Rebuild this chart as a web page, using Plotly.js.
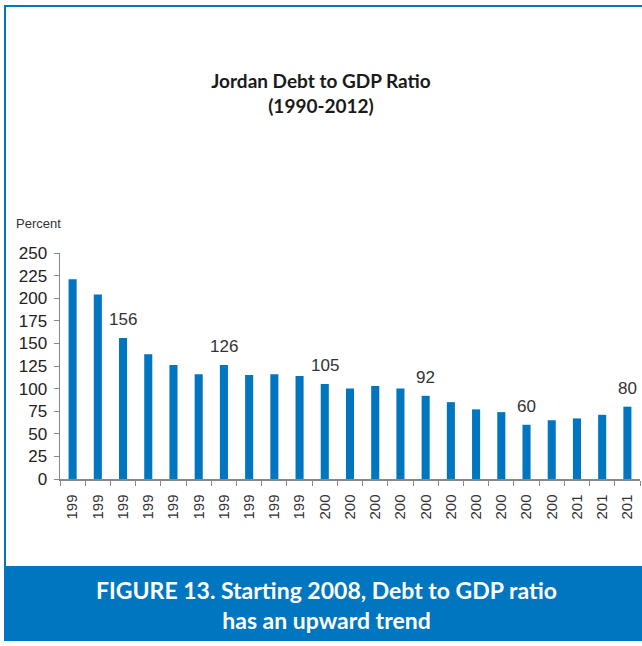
<!DOCTYPE html>
<html>
<head>
<meta charset="utf-8">
<script src="https://cdn.plot.ly/plotly-3.0.1.min.js"></script>
<style>html,body{margin:0;padding:0;background:#fff;}#chart{width:642px;height:646px;}</style>
</head>
<body>
<div id="chart"></div>
<script>
// Data
const years = ['1990','1991','1992','1993','1994','1995','1996','1997','1998','1999','2000','2001','2002','2003','2004','2005','2006','2007','2008','2009','2010','2011','2012'];
const debtToGdp = [221, 204, 156, 138, 126, 116, 126, 115, 116, 114, 105, 100, 103, 100, 92, 85, 77, 74, 60, 65, 67, 71, 80];
const tickLabels = ['199','199','199','199','199','199','199','199','199','199','200','200','200','200','200','200','200','200','200','200','201','201','201'];
const labelledYears = ['1992','1996','2000','2004','2008','2012'];
const labelledValues = ['156','126','105','92','60','80'];
const yTicks = [0, 25, 50, 75, 100, 125, 150, 175, 200, 225, 250];

const BLUE = '#0076C0';
const W = 642, H = 646;
const L = 60, R = 2, T = 253, B = 167;
const pw = W - L - R, ph = H - T - B;
const px = p => (p - L) / pw;
const py = p => (H - B - p) / ph;

const trace = {
  type: 'bar',
  x: years,
  y: debtToGdp,
  marker: {color: BLUE},
  hoverinfo: 'x+y'
};

const annotations = labelledYears.map((yr, i) => {
  const idx = years.indexOf(yr);
  return {
    x: idx, y: debtToGdp[idx], xref: 'x', yref: 'y',
    text: labelledValues[i], showarrow: false, yanchor: 'bottom', yshift: 7,
    font: {family: 'Liberation Sans, Arial, sans-serif', size: 17, color: '#333333'}
  };
});

annotations.push({
  xref: 'paper', yref: 'paper', x: px(14), y: py(224), xanchor: 'left', yanchor: 'middle',
  text: 'Percent', showarrow: false,
  font: {family: 'Liberation Sans, Arial, sans-serif', size: 13, color: '#333333'}
});
annotations.push({
  xref: 'paper', yref: 'paper', x: px(326), y: py(605), xanchor: 'center', yanchor: 'middle',
  text: '<b>FIGURE 13. Starting 2008, Debt to GDP ratio<br>has an upward trend</b>', showarrow: false,
  font: {family: 'Lato, sans-serif', size: 23, color: '#ffffff'}
});

const shapes = [
  {type: 'line', xref: 'paper', yref: 'paper', x0: px(5), x1: px(5), y0: py(6), y1: py(566), line: {color: BLUE, width: 2}},
  {type: 'line', xref: 'paper', yref: 'paper', x0: px(4), x1: px(642), y0: py(6), y1: py(6), line: {color: BLUE, width: 2}},
  {type: 'rect', xref: 'paper', yref: 'paper', x0: px(4), x1: px(642), y0: py(566), y1: py(641), fillcolor: BLUE, line: {width: 0}, layer: 'below'}
];

const layout = {
  width: W, height: H,
  margin: {l: L, r: R, t: T, b: B, pad: 0},
  paper_bgcolor: '#ffffff', plot_bgcolor: '#ffffff',
  showlegend: false,
  bargap: 0.68,
  title: {
    text: '<b>Jordan Debt to GDP Ratio<br>(1990-2012)</b>',
    x: 0.5, xref: 'container', y: 1 - 88 / H, yref: 'container', yanchor: 'middle', xanchor: 'center',
    font: {family: 'Lato, sans-serif', size: 19, color: '#1a1a1a'}
  },
  xaxis: {
    type: 'category',
    tickmode: 'array', tickvals: years, ticktext: tickLabels,
    tickson: 'boundaries',
    tickangle: -90,
    ticks: 'outside', ticklen: 5, tickcolor: '#888888', tickwidth: 1,
    showline: true, linecolor: '#888888', linewidth: 1.5,
    showgrid: false, zeroline: false,
    tickfont: {family: 'Liberation Sans, Arial, sans-serif', size: 15, color: '#333333'},
    ticklabelstandoff: 8,
    range: [-0.5, 22.5], fixedrange: true
  },
  yaxis: {
    range: [0, 250],
    tickmode: 'array', tickvals: yTicks,
    ticks: 'outside', ticklen: 5, tickcolor: '#888888', tickwidth: 1,
    showline: true, linecolor: '#888888', linewidth: 1.5,
    showgrid: false, zeroline: false,
    tickfont: {family: 'Liberation Sans, Arial, sans-serif', size: 17, color: '#222222'},
    ticklabelstandoff: 3,
    fixedrange: true
  },
  annotations: annotations,
  shapes: shapes
};

Plotly.newPlot('chart', [trace], layout, {displayModeBar: false, staticPlot: true});
</script>
</body>
</html>
